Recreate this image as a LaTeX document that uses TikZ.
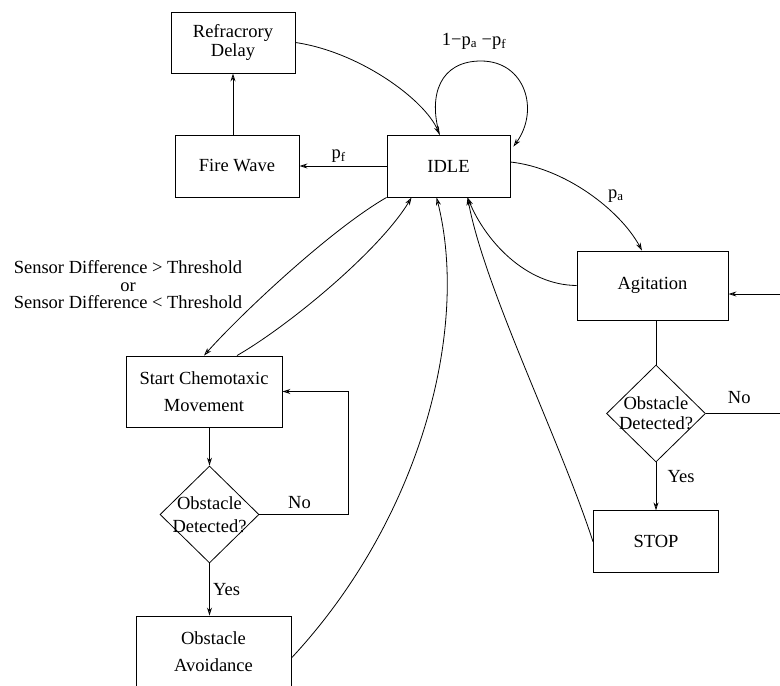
\documentclass[tikz,border=0pt]{standalone}
\usepackage{fontspec}
\setmainfont{Liberation Serif}
\usepackage{tikz}
\usetikzlibrary{positioning,arrows.meta,shapes.geometric}

\begin{document}
\begin{tikzpicture}[
    x=1pt, y=-1pt,
    font=\fontsize{18.5}{20}\selectfont,
    box/.style={draw, line width=0.9pt, minimum width=123pt, minimum height=62pt,
                align=center, inner sep=2pt},
    decision/.style={draw, diamond, line width=0.8pt, minimum width=99pt,
                minimum height=97pt, inner sep=0pt},
    lbl/.style={font=\fontsize{18.5}{20}\selectfont, align=center},
    arr/.style={-{Stealth[open, length=8pt, width=5pt]}, line width=0.8pt},
    plain/.style={line width=0.8pt},
  ]
  \useasboundingbox (0,0) rectangle (780,686);

  % Idle state + fire wave branch (TOP row)
  \node[box]                                        (idle)  at (448.5,166) {IDLE};
  \node[box, minimum width=124pt]                   (fire)  at (237,166)   {Fire Wave};
  \node[box, minimum width=124pt, minimum height=61pt] (refr) at (233,42.5) {Refracrory\\[-1pt]Delay};
  \node[lbl]                                        (loopl) at (474,41)    {1−p\textsubscript{a} −p\textsubscript{f}};

  % Agitation branch (RIGHT column)
  \node[box, minimum width=151pt, minimum height=69pt] (agit) at (652.5,285.5) {Agitation};
  \node[decision, label={[lbl]center:Obstacle\\[0pt]Detected?}] (obs2) at (656,413.5) {};
  \node[box, minimum width=125pt, below=48pt of obs2] (stop) {STOP};
  \coordinate (edge1) at (780,294);
  \coordinate (edge2) at (780,413.5);

  % Chemotaxis branch (LEFT column)
  \node[lbl]                                        (sens)  at (128,285)
        {Sensor Difference > Threshold\\[-2.5pt]or\\[-2.5pt]Sensor Difference < Threshold};
  \node[box, minimum width=156pt, minimum height=71pt] (chemo) at (204,391.5)
        {Start Chemotaxic\\[7pt]Movement};
  \node[decision, label={[lbl]center:Obstacle\\[3pt]Detected?}] (obs1) at (209.5,514.5) {};
  \node[box, minimum width=155pt, minimum height=72pt] (avoid) at (213.5,652)
        {Obstacle\\[7pt]Avoidance};

  % Arrows around IDLE
  \draw[arr] (idle.west) -- node[above, pos=0.55] {p\textsubscript{f}} (fire.east);
  \draw[arr] (fire.north -| refr.south) -- (refr.south);
  \draw[arr] (refr.east) .. controls (360,52) and (425,100) .. ([xshift=53pt]idle.north west);
  \draw[arr] ([xshift=53pt]idle.north west) .. controls (428,95) and (440,61) .. (481,61)
             .. controls (525,61) and (540,110) .. ([xshift=3pt,yshift=-12pt]idle.north east);
  \draw[arr] ([yshift=4pt]idle.east) .. controls (565,168) and (620,210)
             .. node[pos=0.62, above right] {p\textsubscript{a}} ([xshift=-10.5pt]agit.north);
  \draw[arr] (agit.west) .. controls (525,285) and (485,240) .. ([xshift=81pt]idle.south west);
  \draw[arr] (stop.west) .. controls (560,440) and (485,290) .. ([xshift=81pt]idle.south west);
  \draw[arr] ([yshift=-6pt]avoid.east) .. controls (420,520) and (470,330) .. ([xshift=50pt]idle.south west);
  \draw[arr] (idle.south west) .. controls (330,230) and (240,315) .. (chemo.north);
  \draw[arr] ([xshift=33pt]chemo.north) .. controls (290,325) and (380,250) .. ([xshift=25pt]idle.south west);

  % Right column flow
  \draw[arr] (edge1) -- (agit.east |- edge1);
  \draw[plain] (agit.south -| obs2.north) -- (obs2.north);
  \draw[plain] (obs2.east) -- node[above, pos=0.45, yshift=6pt] {No} (edge2);
  \draw[arr] (obs2.south) -- node[right, pos=0.3, xshift=8pt] {Yes} (stop.north -| obs2.south);

  % Left column flow
  \draw[arr] (chemo.south -| obs1.north) -- (obs1.north);
  \draw[arr] (obs1.east) -- node[above, pos=0.45, yshift=2pt] {No} ++(89,0) |- (chemo.east);
  \draw[arr] (obs1.south) -- node[right, pos=0.5] {Yes} (avoid.north -| obs1.south);
\end{tikzpicture}
\end{document}
